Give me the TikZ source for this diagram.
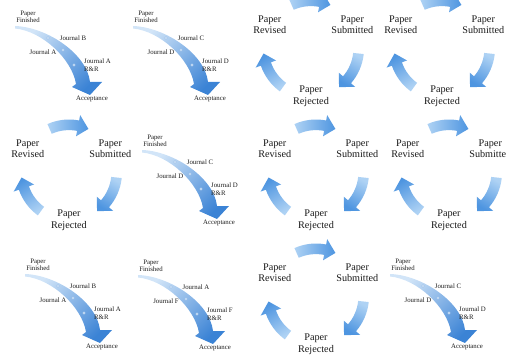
\documentclass[tikz,border=0pt]{standalone}
\usepackage{fontspec}
\setmainfont{Liberation Serif}
\definecolor{fnlight}{HTML}{D2E5F8}
\definecolor{fndark}{HTML}{3B83D5}
\definecolor{cylight}{HTML}{AED2F4}
\definecolor{cydark}{HTML}{4E95E0}
\definecolor{txt}{HTML}{1A1A1A}
\tikzset{
 cyclabel/.style={align=center, font=\fontsize{10.2}{11.6}\selectfont, text=txt, inner sep=0pt},
 fnlabel/.style={align=center, font=\fontsize{6.8}{7.4}\selectfont, text=txt, inner sep=0pt},
 fndot/.style={fill=white, draw=fnlight!50!fndark, line width=0.3pt},
}
\newcommand{\cycArrow}[2]{%
 \pgfmathsetmacro\cyS{#1+24}%
 \pgfmathsetmacro\cyB{#1-11}%
 \pgfmathsetmacro\cyT{#1-24}%
 \shade[top color=cylight, bottom color=cydark, shading angle=#2]
 (\cyS:53) arc[start angle=\cyS, end angle=\cyB, radius=53]
 -- (\cyB:58.5) -- (\cyT:47.7) -- (\cyB:36.9) -- (\cyB:42.4)
 arc[start angle=\cyB, end angle=\cyS, radius=42.4] -- cycle;
}
\newcommand{\cycleGroup}[3]{%
 \begin{scope}[shift={(#2,#3)}]
 \cycArrow{90}{90}
 \cycArrow{-30}{-30}
 \cycArrow{210}{210}
 \node[cyclabel] (#1rev) at (-41.3,23.9) {Paper\\Revised};
 \node[cyclabel] (#1sub) at (41.3,23.9) {Paper\\Submitted};
 \node[cyclabel] (#1rej) at (0,-47.7) {Paper\\Rejected};
 \end{scope}}
\newcommand{\funnelGroup}[6]{%
 \begin{scope}[shift={(#2,#3)}]
 \shade[top color=fnlight, bottom color=fndark, shading angle=45]
 (-77,70.5) -- (-77,73) .. controls (-45,72) and (-5,45) .. (-2,17)
 -- (10,17) -- (-2,4) -- (-20,12) -- (-16,15)
 .. controls (-20,40) and (-50,68) .. (-77,70.5) -- cycle;
 \path[fndot] (-44,61) circle (1.3);
 \path[fndot] (-29,49) circle (1.3);
 \path[fndot] (-18,34) circle (1.3);
 \node[fnlabel] (#1pf) at (-64,82) {Paper\\Finished};
 \node[fnlabel] (#1jt) at (-19,61) {#4};
 \node[fnlabel] (#1jl) at (-49,47) {#5};
 \node[fnlabel, anchor=west, align=left] (#1jr) at (-8,34) {#6\\R\&R};
 \node[fnlabel] (#1acc) at (0,0) {Acceptance};
 \end{scope}}
\begin{document}
\begin{tikzpicture}[x=1pt,y=1pt]
\useasboundingbox (0,0) rectangle (506,354);
\clip (0,0) rectangle (506,354);
\funnelGroup{fa}{92}{255}{Journal B}{Journal A}{Journal A}
\funnelGroup{fb}{210}{255}{Journal C}{Journal D}{Journal D}
\funnelGroup{fc}{219}{131}{Journal C}{Journal D}{Journal D}
\funnelGroup{fd}{102}{7}{Journal B}{Journal A}{Journal A}
\funnelGroup{fe}{215}{6}{Journal A}{Journal F}{Journal F}
\funnelGroup{ff}{467}{7}{Journal C}{Journal D}{Journal D}
\cycleGroup{ca}{311}{305.5}
\cycleGroup{cb}{442}{305.5}
\cycleGroup{cc}{69}{181.5}
\cycleGroup{cd}{316}{181.5}
\cycleGroup{ce}{449}{181.5}
\cycleGroup{cf}{316}{57.5}
\end{tikzpicture}
\end{document}
